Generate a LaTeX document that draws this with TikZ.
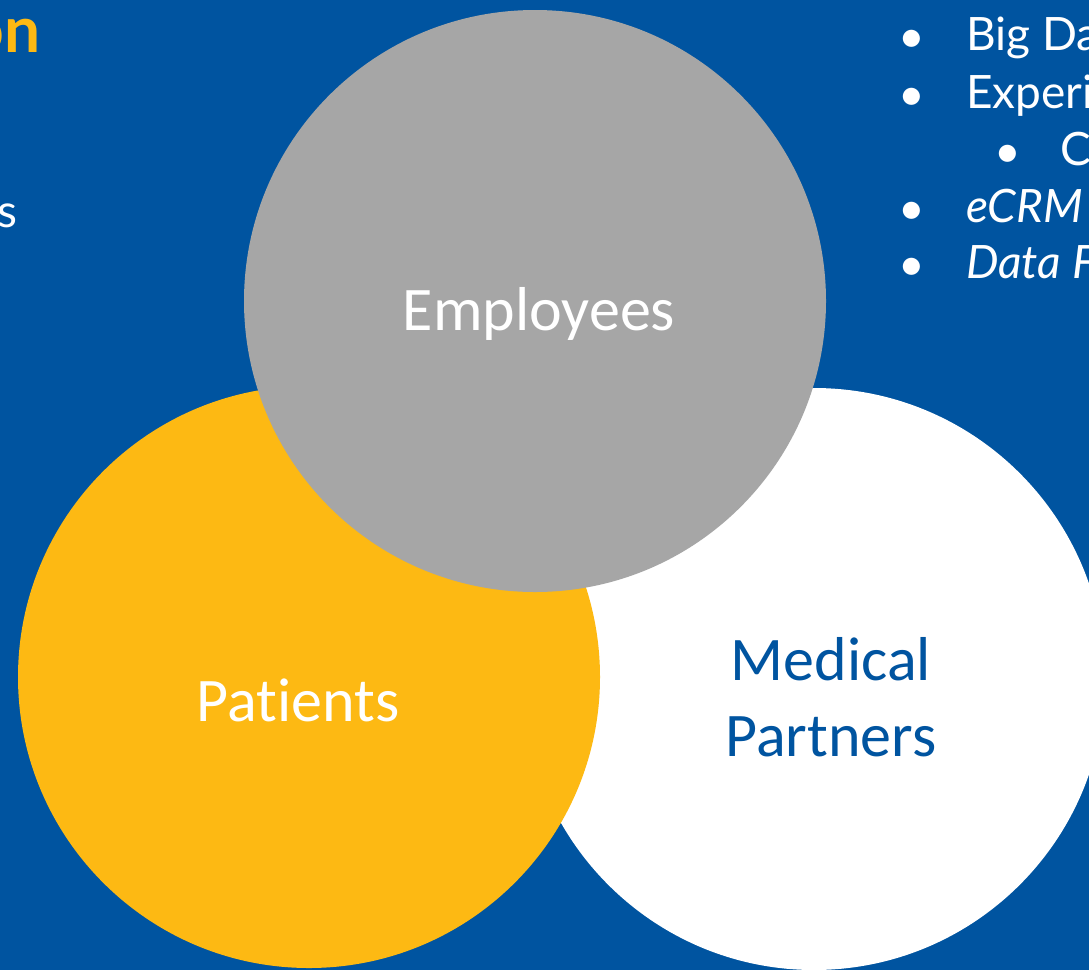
\documentclass[tikz,border=0pt]{standalone}
\usepackage{fontspec}
\newfontfamily\circfont[Ligatures=NoCommon]{Carlito}
\newfontfamily\sidefont{Lato}
\definecolor{slideblue}{RGB}{0,84,160}
\definecolor{slideyellow}{RGB}{253,185,19}
\definecolor{slidegrey}{RGB}{166,166,166}
\begin{document}
\begin{tikzpicture}[x=1pt,y=-1pt,
  disc/.style={circle, minimum size=582pt, inner sep=0pt, draw=none},
  circtext/.style={anchor=base, inner sep=0pt, align=center, font=\circfont\fontsize{62}{76}\selectfont},
  sidetext/.style={anchor=base west, inner sep=0pt, text=white, font=\sidefont\fontsize{46}{55}\selectfont},
  dot/.style={anchor=base, inner sep=0pt, text=white, font=\sidefont\fontsize{46}{55}\selectfont}
]
% Set the slide frame
\useasboundingbox (0,0) rectangle (1089,970);
\clip (0,0) rectangle (1089,970);
\fill[slideblue] (0,0) rectangle (1089,970);

% Draw the three circles, back to front
\node[disc, fill=white] (partners) at (814,679) {};
\node[disc, fill=slideyellow] (patients) at (309,677) {};
\node[disc, fill=slidegrey] (employees) at (535,301) {};

% Insert the circle labels
\node[circtext, text=white] (employeestext) at (539,330) {Employees};
\node[circtext, text=white] (patientstext) at (298,721) {Patients};
\node[circtext, text=slideblue] (partnerstext) at (831,756) {Medical\\Partners};

% Left column, cut off by the frame
\node[anchor=base east, inner sep=0pt, text=slideyellow, font=\sidefont\bfseries\fontsize{64}{70}\selectfont] (titletail) at (41,52) {on};
\node[sidetext, anchor=base east] (lefttail) at (18,227) {s};

% Right column, cut off by the frame
\node[dot] (dota) at (912,52) {\textbullet};
\node[sidetext] (itema) at (966,50) {Big Da};
\node[dot] (dotb) at (912,110) {\textbullet};
\node[sidetext] (itemb) at (966,108) {Experi};
\node[dot] (dotc) at (1008,167) {\textbullet};
\node[sidetext] (itemc) at (1060,165) {C};
\node[dot] (dotd) at (912,224) {\textbullet};
\node[sidetext, font=\sidefont\itshape\fontsize{46}{55}\selectfont] (itemd) at (966,222) {eCRM};
\node[dot] (dote) at (912,280) {\textbullet};
\node[sidetext, font=\sidefont\itshape\fontsize{46}{55}\selectfont] (iteme) at (966,278) {Data F};
\end{tikzpicture}
\end{document}
